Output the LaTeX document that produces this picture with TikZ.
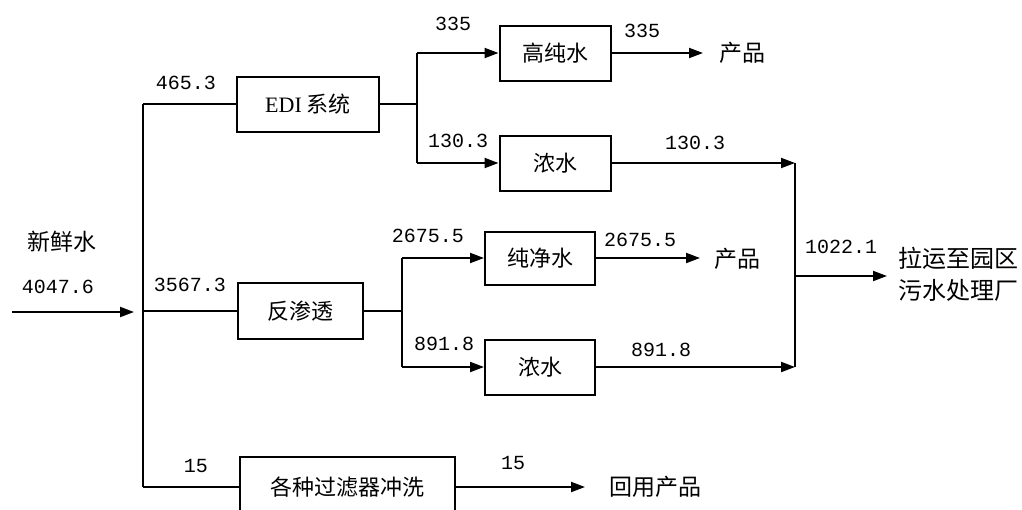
\documentclass[tikz,border=0pt]{standalone}
\usepackage{fontspec}
\setmainfont{Liberation Serif}
\newfontfamily\cjk{Noto Sans CJK SC}
\newfontfamily\numfont{Liberation Mono}
\usetikzlibrary{arrows.meta,positioning,calc}

\begin{document}
\begin{tikzpicture}[
    x=0.5pt, y=-0.5pt,
    box/.style={rectangle, draw, line width=1pt, minimum height=27.5pt,
                inner sep=0pt, align=center, font=\cjk\fontsize{11}{13}\selectfont},
    arr/.style={-{Triangle[length=7pt,width=5pt]}, line width=1pt},
    pipe/.style={line width=1pt},
    num/.style={font=\numfont\fontsize{10}{12}\selectfont, inner sep=0pt},
    lbl/.style={font=\cjk\fontsize{11.5}{15}\selectfont, align=left, inner sep=0pt},
]
\clip (0,0) rectangle (1022,509);

%% Zulauf
\node[lbl] (xsw) at (62,242) {新鲜水};
\node[num] (n-in) at (58,287) {4047.6};
\coordinate (src) at (12,312);
\coordinate (src-end) at (134,312);
\draw[arr] (src) -- (src-end);

%% Sammelleitung links
\coordinate (b1t) at (143,104);
\coordinate (b1m) at (143,311);
\coordinate (b1b) at (143,487);
\draw[pipe] (b1t) -- (b1b);

%% Zweig 1: EDI
\node[box, minimum width=71pt] (edi) at (308,104) {{\rmfamily EDI} 系统};
\draw[pipe] (b1t) -- (edi.west);
\node[num] (n-edi) at (186,83) {465.3};

\coordinate (b2t) at (417,53);
\coordinate (b2b) at (417,163);
\draw[pipe] (edi.east) -- (edi.east -| b2t);
\draw[pipe] (b2t) -- (b2b);

\node[box, minimum width=55.5pt] (hpw) at (555,53) {高纯水};
\node[box, minimum width=55.5pt] (cw1) at (555,163) {浓水};
\draw[arr] (b2t) -- (hpw.west);
\draw[arr] (b2b) -- (cw1.west);
\node[num] (n-hpw) at (453,24) {335};
\node[num] (n-cw1) at (458,141) {130.3};

\coordinate (p1) at (703,53);
\draw[arr] (hpw.east) -- (p1);
\node[num] (n-p1) at (642,31) {335};
\node[lbl] (prd1) at (742,53) {产品};

%% Sammelleitung rechts
\coordinate (b3t) at (795,163);
\coordinate (b3m) at (795,276);
\coordinate (b3b) at (795,367);
\draw[pipe] (b3t) -- (b3b);
\draw[arr] (cw1.east) -- (b3t);
\node[num] (n-cw1o) at (695,143) {130.3};

\coordinate (out) at (887,276);
\draw[arr] (b3m) -- (out);
\node[num] (n-out) at (841,247) {1022.1};
\node[lbl, font=\cjk\fontsize{12}{16}\selectfont, anchor=west] (dest) at (898,274) {拉运至园区\\污水处理厂};

%% Zweig 2: Umkehrosmose
\node[box, minimum width=62.5pt, minimum height=28pt] (ro) at (300,311) {反渗透};
\draw[pipe] (b1m) -- (ro.west);
\node[num] (n-ro) at (190,285) {3567.3};

\coordinate (b4t) at (402,258);
\coordinate (b4b) at (402,367);
\draw[pipe] (ro.east) -- (ro.east -| b4t);
\draw[pipe] (b4t) -- (b4b);

\node[box, minimum width=55pt, minimum height=26.5pt] (pw) at (540,258) {纯净水};
\node[box, minimum width=55pt] (cw2) at (540,367) {浓水};
\draw[arr] (b4t) -- (pw.west);
\draw[arr] (b4b) -- (cw2.west);
\node[num] (n-pw) at (428,236) {2675.5};
\node[num] (n-cw2) at (444,344) {891.8};

\coordinate (p2) at (700,258);
\draw[arr] (pw.east) -- (p2);
\node[num] (n-p2) at (640,240) {2675.5};
\node[lbl] (prd2) at (737,259) {产品};

\draw[arr] (cw2.east) -- (b3b);
\node[num] (n-cw2o) at (661,350) {891.8};

%% Zweig 3: Filterspuelung
\node[box, minimum width=107.5pt, minimum height=30pt] (flt) at (347.5,487) {各种过滤器冲洗};
\draw[pipe] (b1b) -- (flt.west);
\node[num] (n-flt) at (196,466) {15};

\coordinate (p3) at (585,487);
\draw[arr] (flt.east) -- (p3);
\node[num] (n-p3) at (513,463) {15};
\node[lbl] (reuse) at (655,487) {回用产品};

\end{tikzpicture}
\end{document}
